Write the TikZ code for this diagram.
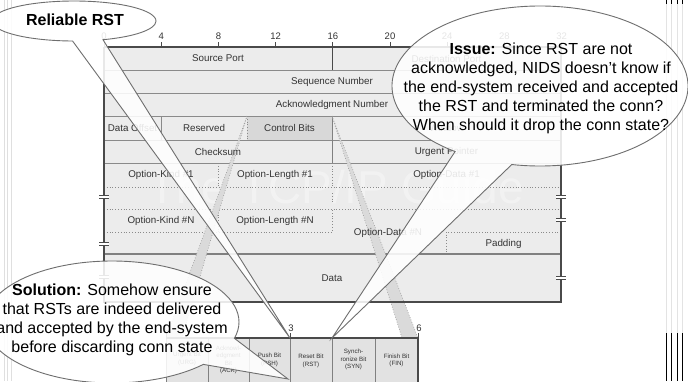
\documentclass[tikz,border=0pt]{standalone}
\usepackage{fontspec}
\setmainfont{Liberation Sans}
\usetikzlibrary{calc}
\definecolor{rowfill}{HTML}{ECECEC}
\definecolor{boxfill}{HTML}{D8D8D8}
\definecolor{stripfill}{HTML}{DADADA}
\definecolor{bitfill}{HTML}{E2E2E2}
\definecolor{rulegray}{HTML}{8A8A8A}
\definecolor{framegray}{HTML}{4A4A4A}
\definecolor{hdrtext}{HTML}{333333}
\definecolor{callline}{HTML}{6E6E6E}
\tikzset{
  hdr/.style={font=\fontsize{9.8}{11}\selectfont, text=hdrtext, inner sep=0pt},
  bitlbl/.style={font=\fontsize{6.2}{7.5}\selectfont, text=hdrtext, align=center, inner sep=0pt},
  rulenum/.style={font=\fontsize{9.5}{10}\selectfont, text=hdrtext, inner sep=0pt},
  rowline/.style={draw=rulegray, line width=0.8pt},
  dotline/.style={draw=rulegray, line width=0.8pt, dotted},
  frameline/.style={draw=framegray, line width=1.4pt},
  callout/.style={fill=white, fill opacity=0.88, draw=callline, line width=0.9pt},
  calltext/.style={font=\fontsize{16}{19}\selectfont, text=black, align=center, inner sep=0pt},
  zoomstrip/.style={fill=stripfill, draw=rulegray, line width=0.6pt, dotted}
}
\begin{document}
\begin{tikzpicture}[x=1pt,y=-1pt]
\useasboundingbox (0,0) rectangle (688,381);
\clip (0,0) rectangle (688,381);
\fill[white] (0,0) rectangle (688,381);

% thin rules at the slide edges
\foreach \x in {4,7.5,11} \draw[gray!25, line width=0.8pt] (\x,0) -- (\x,381);
\foreach \x in {666.5,671.5,677,682} {
  \draw[gray!22, line width=0.9pt] (\x,4) -- (\x,333);
  \draw[black, line width=0.9pt] (\x,333) -- (\x,381);
  \draw[black, line width=0.9pt] (\x,0) -- (\x,4);
}

% TCP header body
\fill[rowfill] (104,47) rectangle (561,302);
\fill[boxfill] (247,116) rectangle (332,140);
\node[font=\fontsize{46}{50}\selectfont, text=white, opacity=0.35, anchor=base, inner sep=0pt] (mark) at (336,203) {The TCP/IP Guide};

\foreach \y in {70,93,116,140,163} \draw[rowline] (104,\y) -- (561,\y);
\draw[rowline, line width=1.1pt, draw=gray] (104,254) -- (561,254);
\draw[frameline, line width=1pt] (332,47) -- (332,70);
\draw[rowline] (161,116) -- (161,140);
\draw[rowline, draw=gray] (332,116) -- (332,163);
\draw[dotline] (247,116) -- (247,140);

% option rows
\draw[dotline] (104,187) -- (561,187);
\draw[dotline] (104,209) -- (561,209);
\draw[dotline] (104,232) -- (332,232) -- (332,209);
\draw[dotline] (218.5,163) -- (218.5,187);
\draw[dotline] (332,163) -- (332,187);
\draw[dotline] (218.5,209) -- (218.5,232);
\draw[dotline] (332,193) -- (332,203);
\draw[dotline] (561,232) -- (446,232) -- (446,254);

% zoom strips from the control bits to the flag row
\path[zoomstrip] (247,116) -- (166,338) -- (182,338) -- cycle;
\path[zoomstrip] (332,116) -- (402,338) -- (418,338) -- cycle;

% frame
\draw[frameline] (104,47) -- (561,47);
\draw[frameline] (104,47) -- (104,302) -- (561,302) -- (561,47);
\foreach \b in {0,4,...,32} {
  \pgfmathsetmacro\xx{104+14.3*\b}
  \draw[framegray, line width=1pt] (\xx,42) -- (\xx,47);
  \node[rulenum] (r\b) at (\xx,36) {\b};
}
\foreach \x/\y in {104/197,104/244,104/277,561/197,561/220,561/278} {
  \fill[white] (\x-5,\y-1.6) rectangle (\x+5,\y+1.6);
  \draw[framegray, line width=0.8pt] (\x-5,\y-1.6) -- (\x+5,\y-1.6) (\x-5,\y+1.6) -- (\x+5,\y+1.6);
}

% header field labels
\node[hdr] (srcport) at (218,58.5) {Source Port};
\node[hdr] (dstport) at (446.5,58.5) {Destination Port};
\node[hdr] (seqnum) at (332,81.5) {Sequence Number};
\node[hdr] (acknum) at (332,104.5) {Acknowledgment Number};
\node[hdr] (doff) at (132.5,128) {Data Offset};
\node[hdr] (resv) at (204,128) {Reserved};
\node[hdr] (ctrl) at (289.5,128) {Control Bits};
\node[hdr] (win) at (446.5,128) {Window};
\node[hdr] (csum) at (218,151.5) {Checksum};
\node[hdr] (urgptr) at (446.5,151.5) {Urgent Pointer};
\node[hdr] (okind1) at (161,175) {Option-Kind \#1};
\node[hdr] (olen1) at (275,175) {Option-Length \#1};
\node[hdr] (odata1) at (446.5,175) {Option-Data \#1};
\node[hdr] (okindn) at (161,220.5) {Option-Kind \#N};
\node[hdr] (olenn) at (275,220.5) {Option-Length \#N};
\node[hdr] (odatan) at (388,233) {Option-Data \#N};
\node[hdr] (pad) at (503.5,243.5) {Padding};
\node[hdr] (data) at (332,278) {Data};

% expanded control bits
\foreach \a/\b in {166/208,208/249,249/290,290/332,332/375,375/418}
  \fill[bitfill] (\a,338) rectangle (\b,385);
\foreach \x in {166,208,249,290,332,375} \draw[rowline, draw=gray] (\x,338) -- (\x,385);
\draw[frameline] (166,338) -- (418,338);
\draw[frameline] (418,338) -- (418,385);
\foreach \x/\n in {166/0,290/3,418/6} {
  \draw[framegray, line width=1pt] (\x,333) -- (\x,338);
  \node[rulenum] (f\n) at (\x+1,328) {\n};
}
\node[bitlbl] (urg) at (187,359) {Urgent Bit\\(URG)};
\node[bitlbl] (ack) at (228.5,360) {Acknowl-\\edgment\\Bit\\(ACK)};
\node[bitlbl] (psh) at (269.5,360) {Push Bit\\(PSH)};
\node[bitlbl] (rstbit) at (311,361) {Reset Bit\\(RST)};
\node[bitlbl] (syn) at (353.5,359.5) {Synch-\\ronize Bit\\(SYN)};
\node[bitlbl] (fin) at (396.5,360.5) {Finish Bit\\(FIN)};

% speech bubbles
\path[callout] ($(74,21)+(91:82 and 20)$)
  arc[start angle=91, end angle=429.3, x radius=82, y radius=20] -- (290,338) -- cycle;
\path[callout] ($(540,86)+(125:148 and 80)$)
  arc[start angle=125, end angle=461, x radius=148, y radius=80] -- (332,338) -- cycle;
\path[callout] ($(112,322)+(44:127 and 61)$)
  arc[start angle=44, end angle=375.5, x radius=127, y radius=61] -- (288,379) -- cycle;

\node[calltext, font=\fontsize{16}{19}\selectfont\bfseries] (reliable) at (75,20) {Reliable RST};
\node[calltext] (issue) at (541,88) {\textbf{Issue:} Since RST are not\\acknowledged, NIDS doesn't know if\\the end-system received and accepted\\the RST and terminated the conn?\\When should it drop the conn state?};
\node[calltext] (solution) at (112,320) {\textbf{Solution:} Somehow ensure\\that RSTs are indeed delivered\\and accepted by the end-system\\before discarding conn state};
\end{tikzpicture}
\end{document}
